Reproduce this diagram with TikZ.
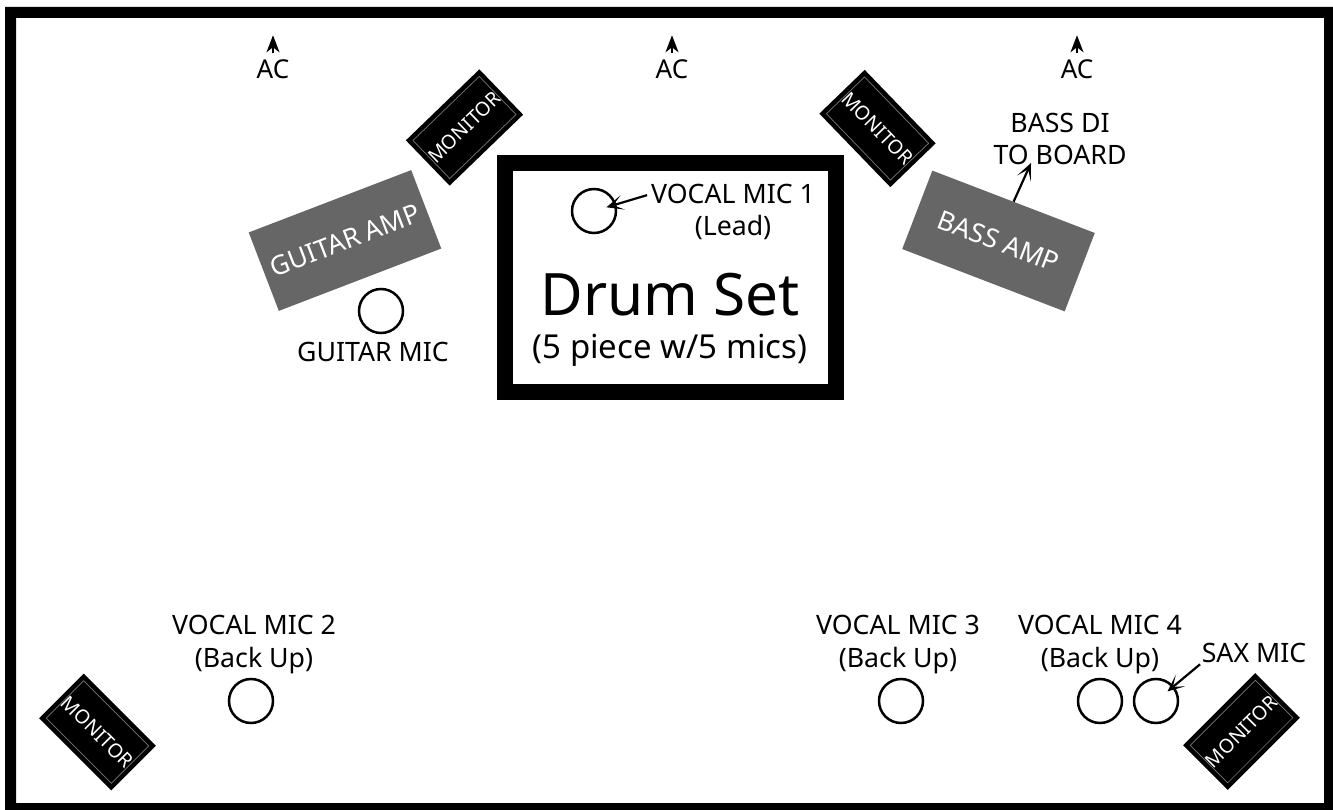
\documentclass[tikz,border=0pt]{standalone}
\usepackage{fontspec}
\setmainfont{Noto Sans}
\usepackage{tikz}
\usetikzlibrary{arrows.meta, positioning}
\definecolor{ampc}{HTML}{666666}
\definecolor{monline}{HTML}{777777}

\begin{document}
\begin{tikzpicture}[
  x=1pt, y=-1pt,
  lbl/.style={inner sep=0pt, align=center, font=\fontsize{26.7}{32.5}\selectfont},
  mic/.style={draw, circle, line width=2.5pt, minimum size=44pt, inner sep=0pt},
  amp/.style={fill=ampc, text=white, minimum width=174pt, minimum height=84pt, inner sep=0pt, font=\fontsize{26.5}{30}\selectfont},
  mon/.style={fill=black, draw=monline, line width=0.7pt, preaction={draw=black, line width=10pt}, minimum width=86pt, minimum height=53pt, inner sep=0pt, text=white, font=\fontsize{19.5}{22}\selectfont},
  arr/.style={-{Stealth[length=17pt, width=15pt, inset=10pt]}, line width=2.2pt},
  acarr/.style={-{Stealth[length=17pt, width=13pt, inset=5pt]}, line width=1.8pt}
]
\useasboundingbox (0,0) rectangle (1333,810);
% Stage frame
\fill[black, even odd rule] (5,7) rectangle (1333,810) (16,18) rectangle (1324,803);

% Drum riser
\node[draw, line width=16pt, minimum width=331pt, minimum height=228pt, inner sep=0pt] (drums) at (670.5,277.5) {};
\node[inner sep=0pt, font=\fontsize{58.5}{60}\selectfont] (drumset) at (670,295) {Drum Set};
\node[inner sep=0pt, font=\fontsize{33}{36}\selectfont, below=17pt of drumset] (pieces) {(5 piece w/5 mics)};

% Power drops
\node[lbl, font=\fontsize{26}{30}\selectfont] (ac1) at (273,69) {AC};
\node[lbl, font=\fontsize{26}{30}\selectfont] (ac2) at (672,69) {AC};
\node[lbl, font=\fontsize{26}{30}\selectfont] (ac3) at (1077,69) {AC};
\coordinate[above=24pt of ac1.north] (ac1tip);
\coordinate[above=24pt of ac2.north] (ac2tip);
\coordinate[above=24pt of ac3.north] (ac3tip);
\draw[acarr, shorten <=6pt] (ac1.north) -- (ac1tip);
\draw[acarr, shorten <=6pt] (ac2.north) -- (ac2tip);
\draw[acarr, shorten <=6pt] (ac3.north) -- (ac3tip);

% Monitors
\node[mon, rotate=44] (mon1) at (464.5,127.5) {MONITOR};
\node[mon, rotate=-46] (mon2) at (877.5,128.5) {MONITOR};
\node[mon, rotate=-45] (mon3) at (97.5,732) {MONITOR};
\node[mon, rotate=45] (mon4) at (1241.5,731.5) {MONITOR};

% Amps
\node[amp, rotate=21] (gtramp) at (345,240.5) {GUITAR AMP};
\node[amp, rotate=-21] (bassamp) at (998.5,241) {BASS AMP};
\node[lbl] (bassdi) at (1060,139) {BASS DI\\TO BOARD};
\coordinate (bassditip) at (1031,163);
\draw[arr] (bassamp.north) -- (bassditip);

% Mics
\node[mic] (vm1) at (594,211) {};
\node[mic] (gtrmic) at (381,311) {};
\node[mic] (vm2) at (251,701) {};
\node[mic] (vm3) at (901,701) {};
\node[mic] (vm4) at (1100,701) {};
\node[mic] (saxmic) at (1156,701) {};

\node[lbl] (vm1top) at (733,194) {VOCAL MIC 1};
\node[lbl, below=11pt of vm1top] (vm1sub) {(Lead)};
\node[lbl, below=8pt of gtrmic, xshift=-8pt] (gtrlbl) {GUITAR MIC};
\node[lbl, above=4pt of vm2, xshift=3pt] (vm2lbl) {VOCAL MIC 2\\(Back Up)};
\node[lbl, above=4pt of vm3, xshift=-3pt] (vm3lbl) {VOCAL MIC 3\\(Back Up)};
\node[lbl, above=4pt of vm4] (vm4lbl) {VOCAL MIC 4\\(Back Up)};
\node[lbl] (saxlbl) at (1254,653) {SAX MIC};

\draw[arr, shorten >=13pt, shorten <=4pt] (vm1top.west) -- (vm1.center);
\draw[arr, shorten >=15pt, shorten <=2pt] (saxlbl.south west) -- (saxmic.center);
\end{tikzpicture}
\end{document}
